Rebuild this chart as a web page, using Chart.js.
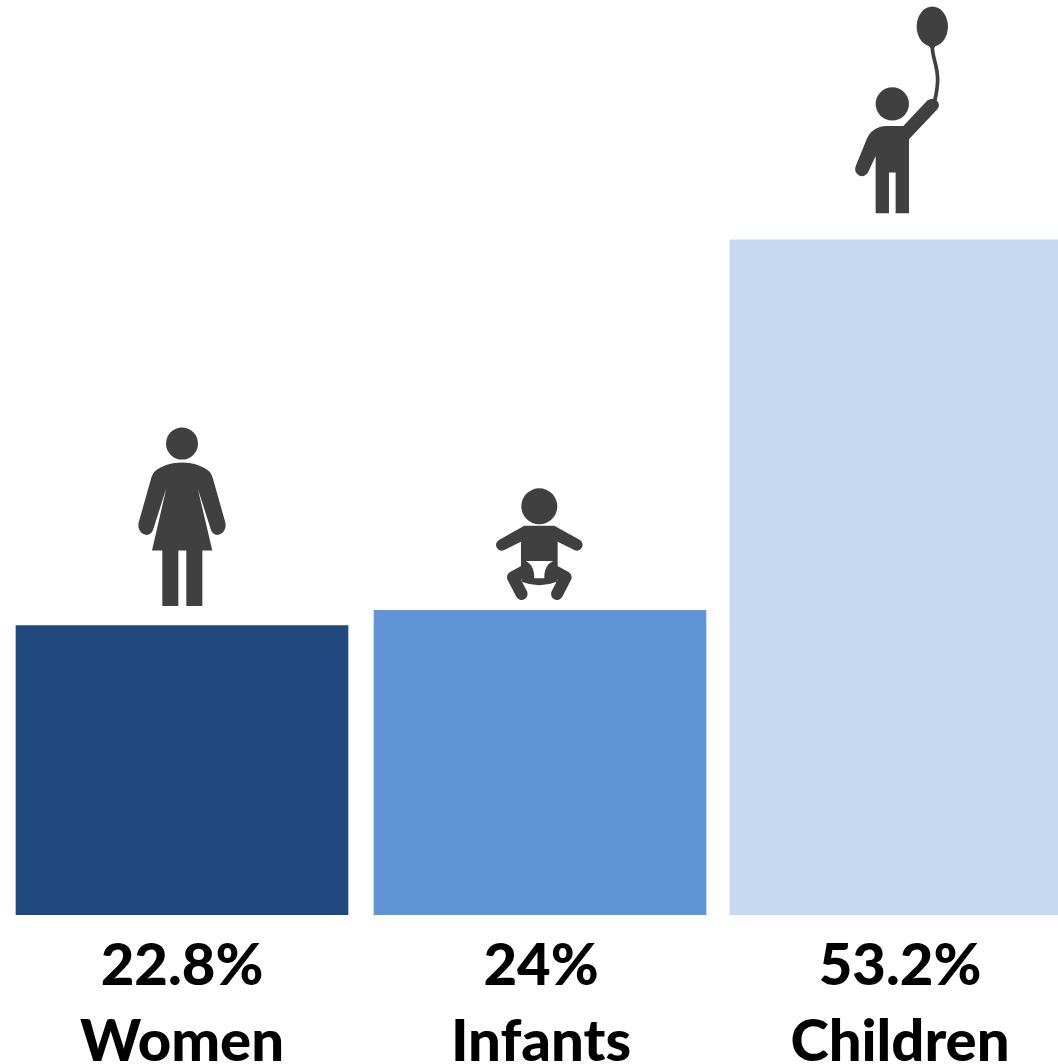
<!DOCTYPE html>
<html>
<head>
<meta charset="utf-8">
<script src="https://cdn.jsdelivr.net/npm/chart.js@4"></script>
<style>
html,body{margin:0;padding:0;background:#fff;overflow:hidden}
#wrap{width:1058px;height:1064px;overflow:hidden}
canvas{display:block}
</style>
</head>
<body>
<div id="wrap"><canvas id="c" width="1080" height="1064"></canvas></div>
<script>
const categories = ["Women", "Infants", "Children"];
const values = [22.8, 24, 53.2];
const barColors = ["#1F497D", "#6295D6", "#C6D9F1"];
const barNudges = [1, 0, -3];
const iconGaps = [19.7, 11.1, 26.6];
const iconShift = [0, -0.7, -3.7];
const iconColor = "#404040";

function drawWoman(ctx){
  ctx.translate(-171,-558);
  ctx.beginPath(); ctx.arc(171,71,48,0,Math.PI*2); ctx.fill();
  ctx.beginPath();
  ctx.moveTo(171,128);
  ctx.bezierCurveTo(200,128,235,138,253,155);
  ctx.bezierCurveTo(258,160,262,170,265,180);
  ctx.lineTo(301,308);
  ctx.bezierCurveTo(306,328,292,345,277,345);
  ctx.bezierCurveTo(268,345,261,338,258,330);
  ctx.lineTo(218,205);
  ctx.lineTo(262,392);ctx.lineTo(232,392);ctx.lineTo(232,558);ctx.lineTo(184,558);
  ctx.lineTo(184,392);ctx.lineTo(160,392);ctx.lineTo(160,558);ctx.lineTo(112,558);
  ctx.lineTo(112,392);ctx.lineTo(81,392);ctx.lineTo(124,205);
  ctx.lineTo(84,330);
  ctx.bezierCurveTo(81,338,74,345,65,345);
  ctx.bezierCurveTo(50,345,36,328,41,308);
  ctx.lineTo(77,180);
  ctx.bezierCurveTo(80,170,84,160,89,155);
  ctx.bezierCurveTo(107,138,142,128,171,128);
  ctx.closePath(); ctx.fill();
}
function drawBaby(ctx){
  ctx.translate(-163,-358);
  ctx.beginPath(); ctx.arc(163,79,54,0,Math.PI*2); ctx.fill();
  ctx.beginPath();
  ctx.moveTo(118,137);ctx.lineTo(208,137);ctx.lineTo(285,180);
  ctx.quadraticCurveTo(298,190,290,204);ctx.quadraticCurveTo(282,216,268,210);
  ctx.lineTo(218,185);ctx.lineTo(218,262);ctx.lineTo(108,262);ctx.lineTo(108,185);
  ctx.lineTo(58,210);ctx.quadraticCurveTo(44,216,36,204);ctx.quadraticCurveTo(28,190,42,180);
  ctx.closePath();ctx.fill();
  ctx.strokeStyle=iconColor;ctx.lineCap="round";ctx.lineJoin="round";ctx.lineWidth=36;
  ctx.beginPath();ctx.moveTo(128,268);ctx.lineTo(84,292);ctx.lineTo(110,342);ctx.stroke();
  ctx.beginPath();ctx.moveTo(198,268);ctx.lineTo(242,292);ctx.lineTo(216,342);ctx.stroke();
  ctx.beginPath();ctx.moveTo(110,265);ctx.lineTo(216,265);ctx.lineTo(216,305);
  ctx.quadraticCurveTo(163,326,110,305);ctx.closePath();ctx.fill();
  ctx.fillStyle="#fff";
  ctx.beginPath();ctx.moveTo(122,243);ctx.lineTo(205,243);
  ctx.bezierCurveTo(190,250,178,262,178,295);ctx.lineTo(148,295);
  ctx.bezierCurveTo(148,262,136,250,122,243);ctx.closePath();ctx.fill();
}
function drawChild(ctx){
  ctx.translate(-157,-640);
  ctx.beginPath(); ctx.arc(157,312,50,0,Math.PI*2); ctx.fill();
  ctx.beginPath(); ctx.ellipse(277,80,47,60,0,0,Math.PI*2); ctx.fill();
  ctx.beginPath();ctx.moveTo(266,137);ctx.lineTo(288,137);ctx.lineTo(277,151);ctx.closePath();ctx.fill();
  ctx.strokeStyle=iconColor;ctx.lineWidth=11;
  ctx.beginPath();ctx.moveTo(277,140);
  ctx.bezierCurveTo(277,175,293,195,293,240);
  ctx.bezierCurveTo(293,265,288,285,284,305);ctx.stroke();
  ctx.beginPath();
  ctx.moveTo(140,378);ctx.lineTo(190,378);ctx.lineTo(262,302);
  ctx.quadraticCurveTo(280,290,293,305);ctx.quadraticCurveTo(302,318,290,330);
  ctx.lineTo(207,418);ctx.lineTo(207,640);ctx.lineTo(167,640);ctx.lineTo(167,518);
  ctx.lineTo(147,518);ctx.lineTo(147,640);ctx.lineTo(107,640);ctx.lineTo(107,468);
  ctx.lineTo(84,518);ctx.quadraticCurveTo(72,535,56,526);ctx.quadraticCurveTo(40,515,48,497);
  ctx.lineTo(80,418);ctx.quadraticCurveTo(95,380,140,378);
  ctx.closePath();ctx.fill();
}
const iconDrawers = [drawWoman, drawBaby, drawChild];

const iconsPlugin = {
  id:"iconsPlugin",
  afterDatasetsUpdate(chart){
    chart.getDatasetMeta(0).data.forEach((bar,i)=>{ bar.x += barNudges[i]; });
  },
  afterDatasetsDraw(chart){
    const ctx = chart.ctx;
    chart.getDatasetMeta(0).data.forEach((bar,i)=>{
      ctx.save();
      ctx.fillStyle = iconColor;
      ctx.translate(bar.x + iconShift[i], bar.y - iconGaps[i]);
      ctx.scale(1/3,1/3);
      iconDrawers[i](ctx);
      ctx.restore();
    });
  }
};

new Chart(document.getElementById("c"),{
  type:"bar",
  data:{labels:categories,datasets:[{data:values,backgroundColor:barColors,borderWidth:0,barThickness:332}]},
  options:{
    responsive:false,animation:false,
    layout:{padding:{left:1.5,right:1.5,top:0,bottom:0}},
    plugins:{legend:{display:false},tooltip:{enabled:false},title:{display:false}},
    scales:{
      x:{
        grid:{display:false},border:{display:false},
        afterFit(s){s.height=149;},
        ticks:{
          autoSkip:false,maxRotation:0,minRotation:0,padding:5,labelOffset:1,color:"#000",
          font:{family:"Lato",weight:"900",size:58,lineHeight:1.31},
          callback(v,i){return [values[i]+"%",categories[i]];}
        }
      },
      y:{display:false,min:0,max:72.1}
    }
  },
  plugins:[iconsPlugin]
});
</script>
</body>
</html>
